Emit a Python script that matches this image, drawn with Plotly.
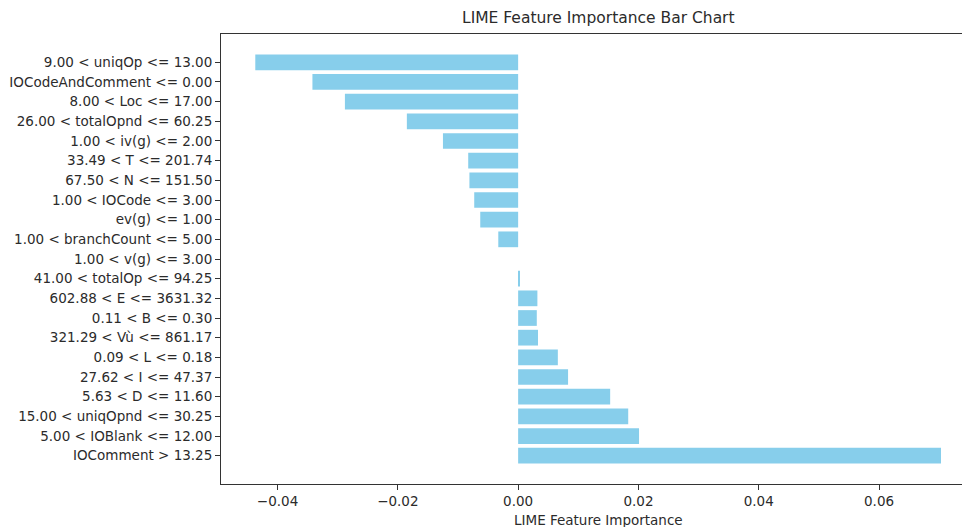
import plotly.graph_objects as go

# LIME explanation: feature conditions (top to bottom) and their weights
features = [
    "9.00 < uniqOp <= 13.00",
    "IOCodeAndComment <= 0.00",
    "8.00 < Loc <= 17.00",
    "26.00 < totalOpnd <= 60.25",
    "1.00 < iv(g) <= 2.00",
    "33.49 < T <= 201.74",
    "67.50 < N <= 151.50",
    "1.00 < IOCode <= 3.00",
    "ev(g) <= 1.00",
    "1.00 < branchCount <= 5.00",
    "1.00 < v(g) <= 3.00",
    "41.00 < totalOp <= 94.25",
    "602.88 < E <= 3631.32",
    "0.11 < B <= 0.30",
    "321.29 < Vù <= 861.17",
    "0.09 < L <= 0.18",
    "27.62 < I <= 47.37",
    "5.63 < D <= 11.60",
    "15.00 < uniqOpnd <= 30.25",
    "5.00 < IOBlank <= 12.00",
    "IOComment > 13.25",
]
weights = [
    -0.0437, -0.0342, -0.0288, -0.0185, -0.0125, -0.0083, -0.0081,
    -0.0073, -0.0063, -0.0033, 0.0, 0.0002, 0.0032, 0.0031,
    0.0033, 0.0066, 0.0083, 0.0153, 0.0183, 0.0201, 0.0703,
]
x_ticks = [-0.04, -0.02, 0.00, 0.02, 0.04, 0.06]
x_tick_text = ["\u22120.04", "\u22120.02", "0.00", "0.02", "0.04", "0.06"]

W, H = 962, 527
left, top, bottom = 221, 34, 43
px_per_unit = 6015.0
x_min = -0.0494
x_max = x_min + (W - left) / px_per_unit
n = len(features)

font = "DejaVu Sans, Liberation Sans, sans-serif"
text_color = "#2b2b2b"
spine_color = "#333333"

fig = go.Figure(
    go.Bar(
        x=weights,
        y=features,
        orientation="h",
        marker=dict(color="#87CEEB", line=dict(width=0)),
        width=0.8,
    )
)

fig.update_layout(
    width=W,
    height=H,
    margin=dict(l=left, r=0, t=top, b=bottom, pad=0),
    paper_bgcolor="white",
    plot_bgcolor="white",
    showlegend=False,
    font=dict(family=font, size=13.5, color=text_color),
)

fig.update_xaxes(
    range=[x_min, x_max],
    tickvals=x_ticks,
    ticktext=x_tick_text,
    ticks="outside",
    ticklen=5,
    tickwidth=1,
    tickcolor=spine_color,
    showline=True,
    linecolor=spine_color,
    linewidth=1,
    mirror=True,
    showgrid=False,
    zeroline=False,
    tickfont=dict(size=13.5),
)

fig.update_yaxes(
    categoryorder="array",
    categoryarray=list(reversed(features)),
    range=[-1.44, n - 1 + 1.44],
    ticks="outside",
    ticklen=5,
    tickwidth=1,
    tickcolor=spine_color,
    showline=True,
    linecolor=spine_color,
    linewidth=1,
    showgrid=False,
    zeroline=False,
    tickfont=dict(size=13.5),
)

# the axes box runs past the right edge of the page; centre titles on the full box
axes_center = (left + left + (0.076 - x_min) * px_per_unit) / 2.0
x_center = (axes_center - left) / (W - left)

fig.add_annotation(
    text="LIME Feature Importance Bar Chart",
    xref="paper", yref="paper",
    x=x_center, y=1,
    xanchor="center", yanchor="bottom", yshift=5,
    showarrow=False,
    font=dict(size=15.5, color=text_color),
)
fig.add_annotation(
    text="LIME Feature Importance",
    xref="paper", yref="paper",
    x=x_center, y=0,
    xanchor="center", yanchor="top", yshift=-26,
    showarrow=False,
    font=dict(size=13.5, color=text_color),
)

fig.write_html("out.html")
